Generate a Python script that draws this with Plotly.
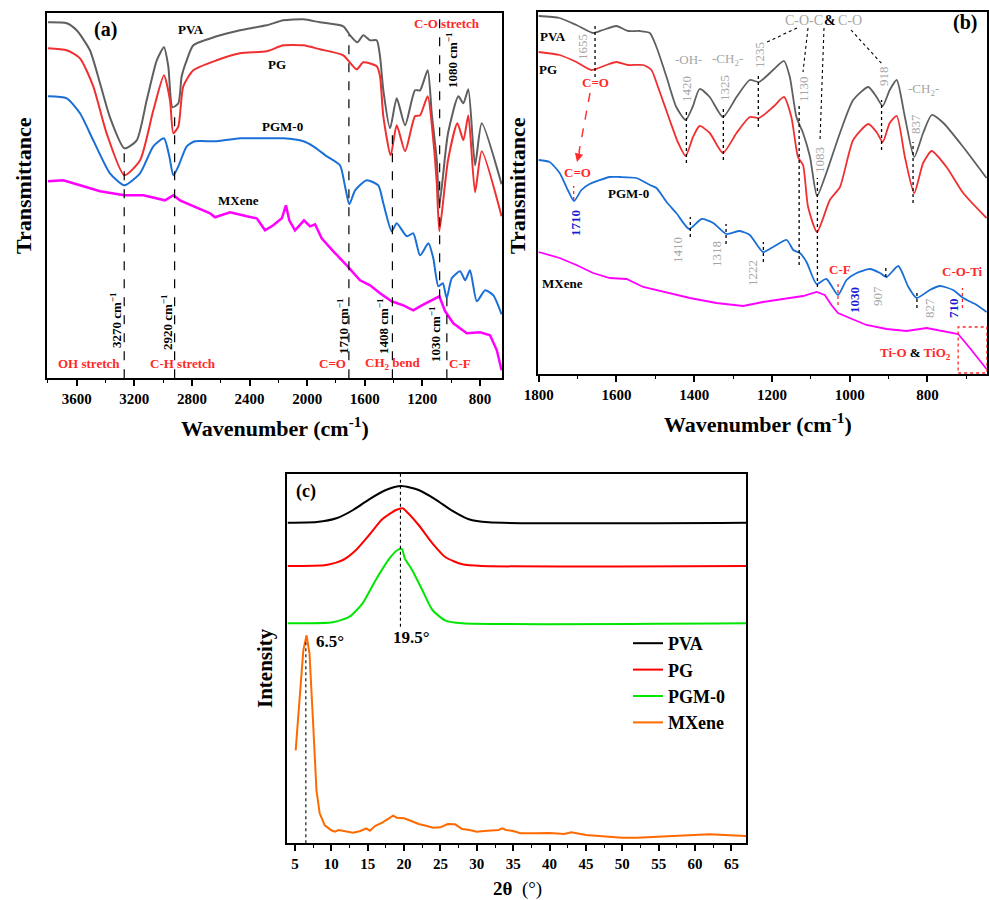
import plotly.graph_objects as go

W, H = 989, 900
FONT = "Liberation Serif"

# ---------------- Panel (a): FTIR 3800-650 cm-1 ----------------
a_pva_wn = [3800, 3669, 3600, 3508, 3438, 3369, 3269, 3183, 3114, 3044, 2994, 2964, 2935, 2894, 2871, 2836, 2790, 2628, 2466, 2281,
            2165, 2026, 1911, 1749, 1702, 1651, 1610, 1563, 1517, 1494, 1471, 1424, 1378, 1320, 1251, 1216, 1163, 1135, 1100, 1082,
            1022, 950, 915, 881, 834, 788, 650]
a_pva_t = [356, 355, 348, 328, 295, 261, 230, 238, 278, 318, 331, 312, 271, 275, 302, 318, 333, 342, 348, 353,
           358, 359, 356, 352, 343, 336, 343, 338, 338, 322, 288, 250, 280, 253, 288, 288, 308, 265, 218, 173,
           245, 282, 275, 289, 213, 255, 194]

a_pg_wn = [3800, 3669, 3577, 3485, 3392, 3269, 3160, 3068, 2994, 2952, 2929, 2894, 2860, 2790, 2628, 2466, 2281, 2165, 2026, 1911,
           1749, 1656, 1610, 1517, 1494, 1471, 1420, 1378, 1320, 1251, 1216, 1163, 1124, 1100, 1082, 1022, 957, 915, 881, 834,
           788, 650]
a_pg_t = [330, 328, 320, 292, 245, 203, 218, 268, 303, 278, 245, 252, 292, 308, 318, 325, 327, 333, 333, 329,
          323, 309, 316, 312, 302, 262, 223, 253, 227, 262, 263, 282, 238, 195, 147, 218, 255, 238, 263, 186,
          227, 162]

a_pgm_wn = [3800, 3669, 3577, 3485, 3369, 3269, 3160, 3068, 2994, 2957, 2929, 2894, 2836, 2779, 2628, 2466, 2281, 2165, 2026, 1957,
            1864, 1772, 1737, 1707, 1667, 1586, 1506, 1471, 1413, 1378, 1308, 1263, 1216, 1158, 1124, 1089, 1058, 1031, 996, 938,
            903, 869, 822, 764, 707, 650]
a_pgm_t = [282, 280, 265, 238, 205, 193, 205, 232, 240, 222, 203, 212, 232, 237, 237, 240, 240, 240, 237, 232,
           222, 213, 192, 174, 188, 198, 193, 175, 147, 155, 142, 145, 123, 135, 120, 92, 95, 80, 100, 107,
           98, 108, 77, 88, 83, 64]

a_mx_wn = [3800, 3693, 3577, 3438, 3269, 3138, 2987, 2929, 2883, 2790, 2674, 2640, 2535, 2419, 2350, 2292, 2235, 2176, 2147, 2124,
           2084, 2022, 1980, 1945, 1899, 1818, 1725, 1633, 1563, 1494, 1413, 1332, 1263, 1204, 1124, 1082, 1042, 985, 892, 799,
           730, 683, 650]
a_mx_t = [197, 198, 193, 187, 183, 183, 178, 183, 178, 172, 165, 161, 166, 162, 160, 148, 153, 160, 173, 158,
          148, 158, 152, 154, 140, 127, 113, 98, 93, 85, 77, 73, 68, 73, 79, 82, 67, 55, 45, 46,
          43, 28, 8]

a_marks = [3270, 2920, 1710, 1408, 1080, 1030]
a_mark_top = [230, 268, 343, 248, 366, 80]
a_mark_bottom = [0, 0, 0, 0, 80, 0]

# ---------------- Panel (b): FTIR 1800-650 cm-1 ----------------
b_pva_wn = [1800, 1746, 1703, 1660, 1635, 1600, 1570, 1540, 1514, 1497, 1471, 1446, 1422, 1404, 1386, 1360, 1326, 1291, 1257, 1233,
            1197, 1169, 1154, 1137, 1120, 1102, 1084, 1060, 1025, 991, 952, 931, 915, 897, 879, 858, 834, 811, 789, 759,
            708, 648]
b_pva_t = [358, 356, 349, 341, 344, 348, 343, 343, 341, 327, 297, 267, 254, 267, 285, 277, 257, 277, 294, 292,
           304, 313, 297, 257, 241, 217, 178, 201, 241, 274, 287, 277, 268, 284, 294, 257, 217, 241, 259, 251,
           227, 196]

b_pg_wn = [1800, 1746, 1703, 1664, 1626, 1600, 1570, 1531, 1510, 1493, 1463, 1441, 1422, 1403, 1386, 1360, 1326, 1291, 1257, 1233,
           1197, 1169, 1150, 1133, 1120, 1107, 1084, 1051, 1025, 991, 952, 931, 915, 897, 879, 858, 834, 811, 789, 751,
           708, 648]
b_pg_t = [322, 319, 312, 304, 309, 312, 309, 309, 304, 287, 254, 231, 218, 237, 248, 241, 221, 241, 257, 256,
          267, 277, 257, 217, 209, 167, 142, 174, 187, 234, 250, 242, 232, 251, 258, 217, 181, 211, 223, 207,
          181, 156]

b_pgm_wn = [1800, 1772, 1746, 1725, 1709, 1690, 1669, 1617, 1592, 1549, 1514, 1497, 1471, 1446, 1413, 1381, 1351, 1317, 1283, 1257,
            1223, 1197, 1162, 1145, 1128, 1111, 1085, 1060, 1030, 1008, 982, 948, 922, 905, 875, 849, 828, 794, 768, 734,
            708, 673, 648]
b_pgm_t = [214, 212, 201, 184, 173, 184, 190, 197, 197, 196, 189, 186, 172, 161, 145, 155, 151, 140, 143, 139,
           122, 127, 134, 124, 121, 112, 90, 95, 79, 94, 101, 105, 101, 97, 108, 87, 76, 84, 88, 84,
           76, 69, 62]

b_mx_wn = [1800, 1746, 1703, 1660, 1617, 1574, 1531, 1463, 1411, 1343, 1274, 1223, 1162, 1120, 1085, 1064, 1047, 1030, 1000, 957,
           905, 854, 802, 759, 721, 691, 648]
b_mx_t = [122, 116, 109, 101, 96, 95, 87, 81, 76, 71, 68, 72, 76, 78, 82, 79, 69, 61, 56, 49,
          45, 43, 46, 43, 40, 26, 5]

# peak markers (wavenumber, y-from, y-to)
b_marks_black = [(1655, 297, 351), (1420, 211, 264), (1325, 214, 266), (1235, 247, 300), (1130, 109, 269),
                 (1083, 87, 196), (918, 224, 274), (837, 171, 232), (1410, 137, 157), (1318, 130, 150),
                 (1222, 112, 132), (907, 97, 108), (827, 66, 82)]
b_marks_red = [(1710, 174, 188), (1030, 69, 92), (710, 66, 86)]

# ---------------- Panel (c): XRD ----------------
c_pva_2t = [4.0, 8.0, 10.7, 13.0, 15.2, 17.5, 19.6, 22.0, 24.3, 26.6, 28.9, 31.6, 67.0]
c_pva_i = [320.6, 321.3, 325, 333.3, 344, 353.3, 357.3, 353.3, 344, 332.6, 324, 321, 320.6]

c_pg_2t = [4.0, 9.3, 11.6, 13.4, 15.2, 17.0, 18.9, 19.8, 20.5, 22.0, 23.9, 25.7, 28.0, 30.7, 67.0]
c_pg_i = [277.3, 278.3, 283.3, 293.3, 308.3, 324, 333.3, 335, 330.6, 318.3, 300, 286, 279, 277.3, 277.3]

c_pgm_2t = [4.0, 10.2, 12.5, 14.3, 16.1, 18.0, 19.1, 19.7, 20.1, 21.1, 22.5, 23.9, 25.7, 28.0, 67.0]
c_pgm_i = [220, 221, 226.6, 240, 263.3, 285, 293.3, 294.3, 285, 273.3, 253.3, 233.3, 222.6, 220, 220]

c_mx_2t = [5.1, 5.7, 6.15, 6.6, 7.0, 7.45, 7.96, 8.4, 9.1, 10.0, 10.5, 11.0, 12.0, 13.0, 14.0, 14.8, 15.3, 16.0, 17.0, 18.0,
           18.5, 19.0, 20.0, 21.0, 22.0, 23.0, 24.0, 25.0, 26.0, 27.0, 28.0, 29.0, 30.0, 31.0, 32.0, 33.0, 33.5, 34.0, 35.0, 36.0,
           38.0, 40.0, 42.0, 43.0, 45.0, 48.0, 50.0, 52.0, 55.0, 58.0, 60.0, 62.0, 64.0, 67.0]
c_mx_i = [93, 150, 193, 208, 190, 127, 53, 30, 18, 13, 11.6, 13.3, 11.6, 10.6, 12.3, 15, 12.6, 17.3, 20.6, 25,
          27.6, 25.6, 25, 22.3, 19.3, 17.6, 15.6, 16, 19.3, 19, 14.3, 13.3, 11.6, 12.3, 12.6, 13.3, 15, 13.3, 12.3, 10,
          10, 10.3, 9.3, 11, 8.3, 6.6, 5.6, 5.6, 6.6, 7.3, 8, 9, 8.3, 7.3]

GRAY, RED, BLUE, MAG = "#5f5f5f", "#f03030", "#1a6fd6", "#ff00ff"

fig = go.Figure()


def add(x, y, color, width, xa, ya, name=None, legend=False, shape="spline", smooth=0.6):
    fig.add_trace(go.Scatter(x=x, y=y, mode="lines", name=name, showlegend=legend, hoverinfo="skip",
                             line=dict(color=color, width=width, shape=shape, smoothing=smooth),
                             xaxis=xa, yaxis=ya))


add(a_pva_wn, a_pva_t, GRAY, 2, "x", "y")
add(a_pg_wn, a_pg_t, RED, 2, "x", "y")
add(a_pgm_wn, a_pgm_t, BLUE, 2, "x", "y")
add(a_mx_wn, a_mx_t, MAG, 2.5, "x", "y", shape="linear")

add(b_pva_wn, b_pva_t, GRAY, 1.8, "x2", "y2")
add(b_pg_wn, b_pg_t, RED, 1.8, "x2", "y2")
add(b_pgm_wn, b_pgm_t, BLUE, 1.8, "x2", "y2")
add(b_mx_wn, b_mx_t, MAG, 1.8, "x2", "y2", shape="linear")

add(c_pva_2t, c_pva_i, "black", 2, "x3", "y3", name="PVA", legend=True)
add(c_pg_2t, c_pg_i, "#ff0000", 2, "x3", "y3", name="PG", legend=True)
add(c_pgm_2t, c_pgm_i, "#00e600", 2, "x3", "y3", name="PGM-0", legend=True)
add(c_mx_2t, c_mx_i, "#ff6a00", 2, "x3", "y3", name="MXene", legend=True, shape="linear")


def P(px, py):
    return px / W, 1 - py / H


def xax(px0, px1, rng, dtick, minor, anchor):
    return dict(domain=[px0 / W, px1 / W], range=rng, anchor=anchor, dtick=dtick, tick0=0, automargin=False,
                ticks="outside", ticklen=6, tickwidth=1.5, tickcolor="black",
                showline=True, linecolor="black", linewidth=1.6, mirror=True,
                showgrid=False, zeroline=False,
                tickfont=dict(family=FONT, size=15, color="black", weight="bold"),
                minor=dict(dtick=minor, tick0=0, ticks="outside", ticklen=3, tickwidth=1.2,
                           tickcolor="black", showgrid=False))


def yax(py0, py1, rng, anchor):
    return dict(domain=[1 - py1 / H, 1 - py0 / H], range=rng, anchor=anchor, automargin=False,
                showline=True, linecolor="black", linewidth=1.6, mirror=True,
                ticks="", showticklabels=False, showgrid=False, zeroline=False)


annotations = []


def ann(text, px, py, size=13, color="black", bold=True, angle=0, xanchor="center"):
    x, y = P(px, py)
    annotations.append(dict(text=(f"<b>{text}</b>" if bold else text), x=x, y=y, xref="paper", yref="paper",
                            showarrow=False, textangle=angle, xanchor=xanchor, yanchor="middle",
                            font=dict(family=FONT, size=size, color=color)))


shapes = []


def vline(x, y0, y1, xref, yref, dash="dash", color="black", width=1.2):
    shapes.append(dict(type="line", x0=x, x1=x, y0=y0, y1=y1, xref=xref, yref=yref,
                       line=dict(color=color, width=width, dash=dash)))


def pline(p0, p1, dash="dot", color="black", width=1.1):
    x0, y0 = P(*p0)
    x1, y1 = P(*p1)
    shapes.append(dict(type="line", x0=x0, x1=x1, y0=y0, y1=y1, xref="paper", yref="paper",
                       line=dict(color=color, width=width, dash=dash)))


# ---- panel (a) decorations
for wn, top, bot in zip(a_marks, a_mark_top, a_mark_bottom):
    vline(wn, bot, top, "x", "y", dash="dash")
ann("(a)", 105, 30, size=20)
ann("PVA", 191, 29)
ann("PG", 277, 65)
ann("PGM-0", 282, 127)
ann("MXene", 238, 200)
ann("C-O stretch", 447, 24, color="#ff2a2a")
ann("1080 cm<sup>−1</sup>", 452, 60, angle=-90)
ann("3270 cm<sup>−1</sup>", 116, 320, angle=-90)
ann("2920 cm<sup>−1</sup>", 167, 322, angle=-90)
ann("1710 cm<sup>−1</sup>", 343, 326, angle=-90)
ann("1408 cm<sup>−1</sup>", 383, 326, angle=-90)
ann("1030 cm<sup>−1</sup>", 435, 334, angle=-90)
for t, px in [("OH stretch", 89), ("C-H stretch", 183), ("C=O", 332), ("CH<sub>2</sub> bend", 393), ("C-F", 460)]:
    ann(t, px, 363, color="#ff2a2a")
ann("Transmittance", 23, 186, size=22, angle=-90)
ann("Wavenumber (cm<sup>-1</sup>)", 275, 427, size=22)

# ---- panel (b) decorations
for wn, y0, y1 in b_marks_black:
    vline(wn, y0, y1, "x2", "y2", dash="dot", width=1.3)
for wn, y0, y1 in b_marks_red:
    vline(wn, y0, y1, "x2", "y2", dash="dot", color="#ff2a2a", width=1.3)
LG = "#a6a6a6"
for t, px, py in [("1655", 583, 47), ("1420", 686, 89), ("1325", 725, 88), ("1235", 759, 55), ("1130", 803, 89),
                  ("1083", 819, 160), ("918", 884, 76), ("837", 915, 124), ("1410", 677, 250), ("1318", 717, 254),
                  ("1222", 752, 273), ("907", 877, 296), ("827", 929, 308)]:
    ann(t, px, py, color=LG, bold=False, angle=-90)
for t, px, py in [("1710", 575, 223), ("1030", 855, 300), ("710", 953, 308)]:
    ann(t, px, py, color="#1a1ad6", angle=-90)
ann("-OH-", 688, 60, color=LG, bold=False)
ann("-CH<sub>2</sub>-", 727, 59, color=LG, bold=False)
ann("-CH<sub>2</sub>-", 923, 90, color=LG, bold=False)
ann("C-O-C", 804, 20, color=LG, bold=False, size=14)
ann("&", 830, 20, size=14)
ann("C-O", 850, 20, color=LG, bold=False, size=14)
pline((797, 28), (765, 43))
pline((808, 28), (803, 72))
pline((824, 28), (820, 140))
pline((851, 30), (883, 65))
ann("(b)", 965, 22, size=20)
ann("PVA", 553, 36)
ann("PG", 548, 70)
ann("PGM-0", 628, 194)
ann("MXene", 562, 283)
ann("C=O", 595, 83, color="#ff2a2a")
ann("C=O", 577, 173, color="#ff2a2a")
pline((590, 93), (579, 152), dash="dash", color="#ff2a2a", width=1.4)
ax1, ay1 = P(577, 162)
annotations.append(dict(x=ax1, y=ay1, ax=3, ay=-12, xref="paper", yref="paper", axref="pixel", ayref="pixel",
                        showarrow=True, arrowhead=2, arrowsize=1.2, arrowwidth=1.4, arrowcolor="#ff2a2a", text=""))
ann("C-F", 840, 269, color="#ff2a2a")
ann("C-O-Ti", 962, 272, color="#ff2a2a")
ann("<span style='color:#ff2a2a'>Ti-O</span> & <span style='color:#ff2a2a'>TiO<sub>2</sub></span>", 915, 353)
shapes.append(dict(type="rect", x0=721, x1=647, y0=1, y1=47, xref="x2", yref="y2",
                   line=dict(color="#ff2a2a", width=1.3, dash="dot")))
ann("Transmittance", 517, 186, size=22, angle=-90)
ann("Wavenumber (cm<sup>-1</sup>)", 758, 423, size=22)

# ---- panel (c) decorations
vline(19.5, 216.6, 369.3, "x3", "y3", dash="dot", width=1.1)
vline(6.5, 0, 203, "x3", "y3", dash="dot", width=1.1)
ann("(c)", 306, 492, size=18)
ann("19.5°", 411, 637, size=17)
ann("6.5°", 330, 641, size=17)
ann("Intensity", 265, 668, size=21, angle=-90)
ann("2θ</b>  (°)<b>", 517, 889, size=19)

fig.update_layout(
    template="none",
    width=W, height=H, autosize=False,
    margin=dict(l=0, r=0, t=0, b=0, pad=0, autoexpand=False),
    paper_bgcolor="white", plot_bgcolor="white",
    font=dict(family=FONT, color="black"),
    xaxis=xax(47.3, 502.3, [3804, 645], 400, 200, "y"),
    yaxis=yax(12.7, 378.3, [0, 365.6], "x"),
    xaxis2=xax(537.5, 987.3, [1803, 646], 200, 100, "y2"),
    yaxis2=yax(11.7, 374, [0, 362.3], "x2"),
    xaxis3=xax(287.3, 746, [3.95, 67], 5, 2.5, "y3"),
    yaxis3=yax(474, 843.3, [0, 369.3], "x3"),
    legend=dict(x=628 / W, y=1 - 625 / H, xanchor="left", yanchor="top", bgcolor="rgba(0,0,0,0)",
                font=dict(family=FONT, size=18, color="black", weight="bold"), tracegroupgap=0),
    annotations=annotations, shapes=shapes,
)

fig.write_html("out.html", post_script="document.body.style.margin='0';document.body.style.overflow='hidden';")
